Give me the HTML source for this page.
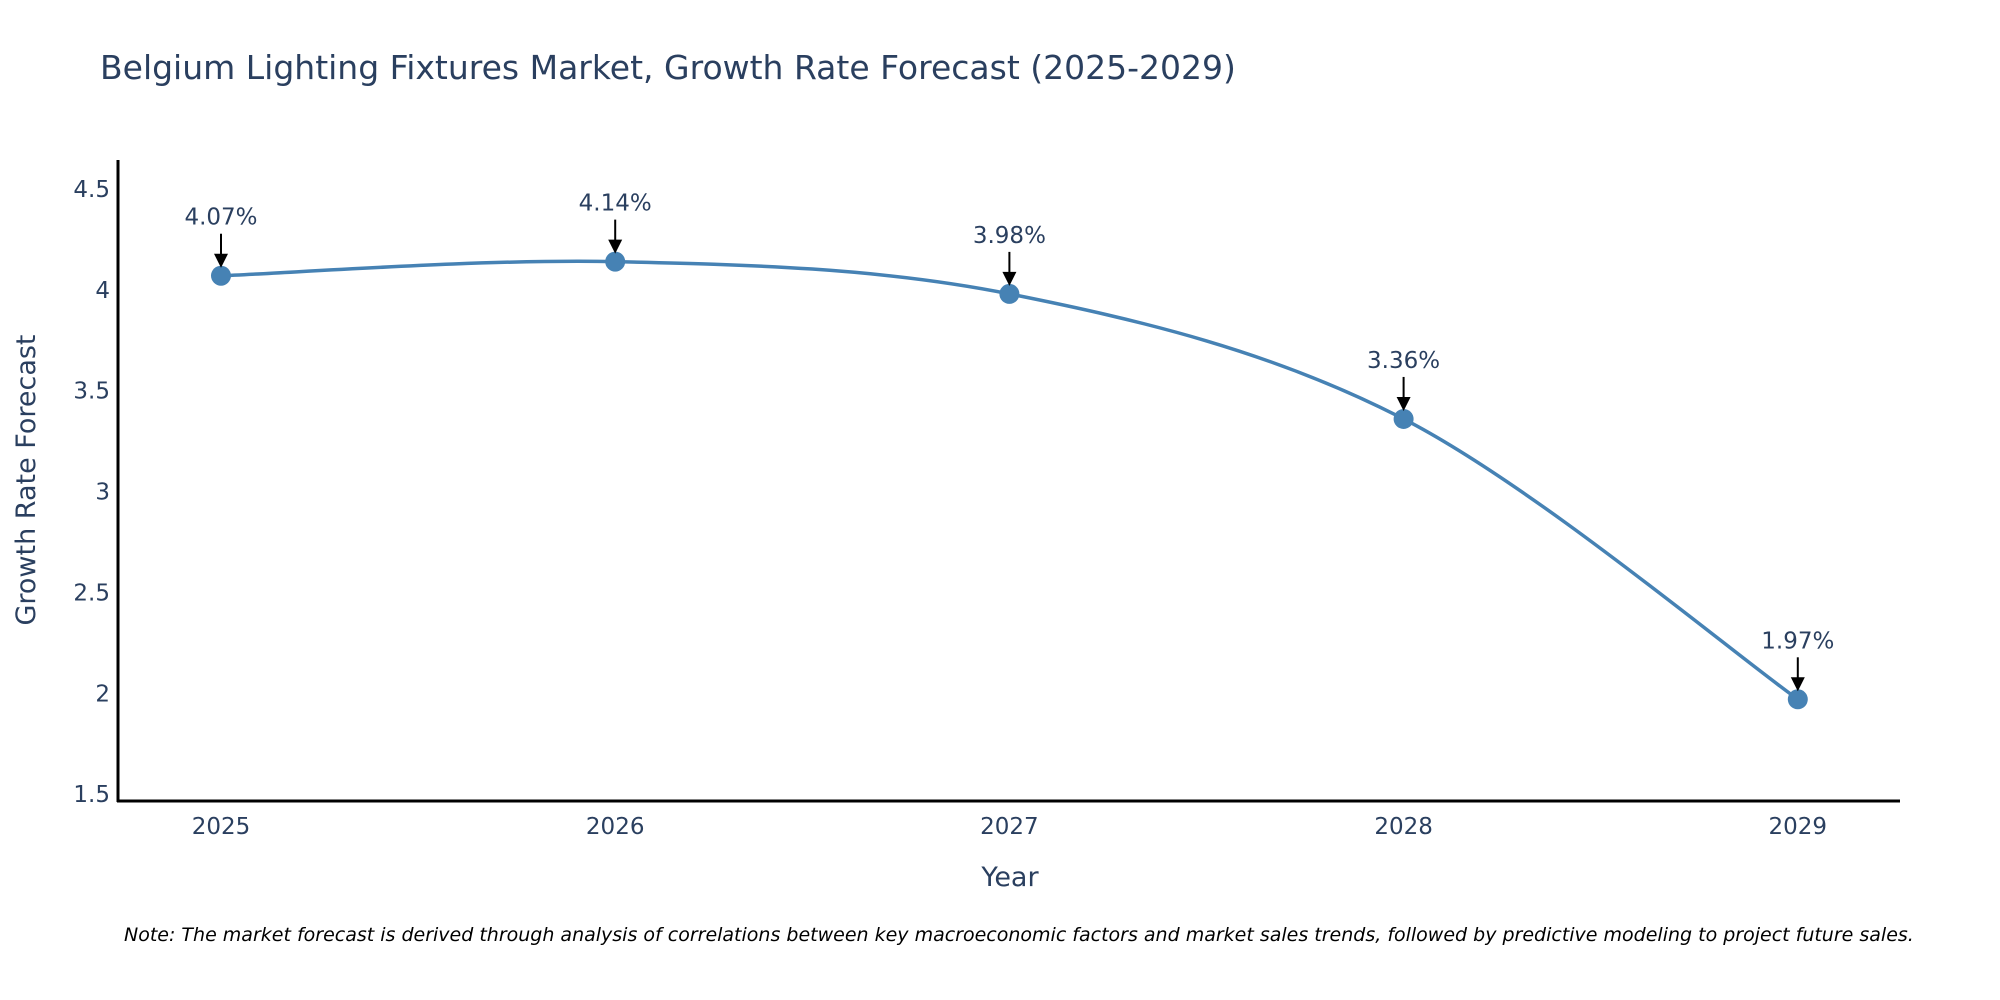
<!DOCTYPE html>
<html><head><meta charset="utf-8"><style>
body{margin:0;background:#fff;}
svg{display:block;font-family:"DejaVu Sans","Liberation Sans",sans-serif;}
</style></head><body>
<svg id="chart" width="2000" height="1000" viewBox="0 0 2000 1000">
<text x="100" y="79" font-size="33" fill="#2a3f5f">Belgium Lighting Fixtures Market, Growth Rate Forecast (2025-2029)</text>
<g id="yticks"></g>
<g id="xticks"></g>
<line x1="118" y1="160" x2="118" y2="802" stroke="#000" stroke-width="3"/>
<line x1="117" y1="801" x2="1900" y2="801" stroke="#000" stroke-width="3"/>
<text transform="translate(35,480) rotate(-90)" text-anchor="middle" font-size="27" fill="#2a3f5f">Growth Rate Forecast</text>
<text x="1010" y="886" text-anchor="middle" font-size="27" fill="#2a3f5f">Year</text>
<g id="series"></g>
<g id="annots"></g>
<text x="124" y="941" font-size="19" font-style="italic" fill="#000">Note: The market forecast is derived through analysis of correlations between key macroeconomic factors and market sales trends, followed by predictive modeling to project future sales.</text>
</svg>
<script>
const years = [2025, 2026, 2027, 2028, 2029];
const values = [4.07, 4.14, 3.98, 3.36, 1.97];
const labels = ["4.07%", "4.14%", "3.98%", "3.36%", "1.97%"];
const yTicks = [1.5, 2, 2.5, 3, 3.5, 4, 4.5];
const yTickLabels = ["1.5", "2", "2.5", "3", "3.5", "4", "4.5"];

const NS = "http://www.w3.org/2000/svg";
function xScale(yr){ return 221 + (yr - 2025) * 394.2; }
function yScale(v){ return 189 + (4.5 - v) * 201.7; }
function mk(tag, attrs, parent){ const e = document.createElementNS(NS, tag); for (const k in attrs) e.setAttribute(k, attrs[k]); parent.appendChild(e); return e; }

const yt = document.getElementById('yticks');
yTicks.forEach((v, i) => {
  const t = mk('text', {x: 110, y: yScale(v) + 8, 'text-anchor': 'end', 'font-size': 23, fill: '#2a3f5f'}, yt);
  
  
  t.textContent = yTickLabels[i];
});
const xt = document.getElementById('xticks');
years.forEach(yr => {
  const t = mk('text', {x: xScale(yr), y: 834, 'text-anchor': 'middle', 'font-size': 23, fill: '#2a3f5f'}, xt);
  
  
  t.textContent = String(yr);
});

const pts = years.map((yr, i) => [xScale(yr), yScale(values[i])]);
let d = `M${pts[0][0]},${pts[0][1]}`;
const s = 1/6;
for (let i = 0; i < pts.length - 1; i++) {
  const p0 = pts[Math.max(i - 1, 0)], p1 = pts[i], p2 = pts[i + 1], p3 = pts[Math.min(i + 2, pts.length - 1)];
  const c1 = [p1[0] + (p2[0] - p0[0]) * s, p1[1] + (p2[1] - p0[1]) * s];
  const c2 = [p2[0] - (p3[0] - p1[0]) * s, p2[1] - (p3[1] - p1[1]) * s];
  d += ` C${c1[0]},${c1[1]} ${c2[0]},${c2[1]} ${p2[0]},${p2[1]}`;
}
const series = document.getElementById('series');
const line = mk('path', {d: d, fill: 'none', stroke: '#4682B4', 'stroke-width': 3.5}, series);


pts.forEach(p => {
  const c = mk('circle', {cx: p[0], cy: p[1], r: 10, fill: '#4682B4'}, series);
  
  
});

const an = document.getElementById('annots');
pts.forEach((p, i) => {
  const l = mk('line', {x1: p[0], y1: p[1] - 42, x2: p[0], y2: p[1] - 20, stroke: '#000', 'stroke-width': 2}, an);
  
  
  const h = mk('polygon', {points: `${p[0]-7},${p[1]-22} ${p[0]+7},${p[1]-22} ${p[0]},${p[1]-8}`, fill: '#000'}, an);
  
  
  const t = mk('text', {x: p[0], y: p[1] - 51, 'text-anchor': 'middle', 'font-size': 23, fill: '#2a3f5f'}, an);
  
  
  t.textContent = labels[i];
});
</script>
</body></html>
